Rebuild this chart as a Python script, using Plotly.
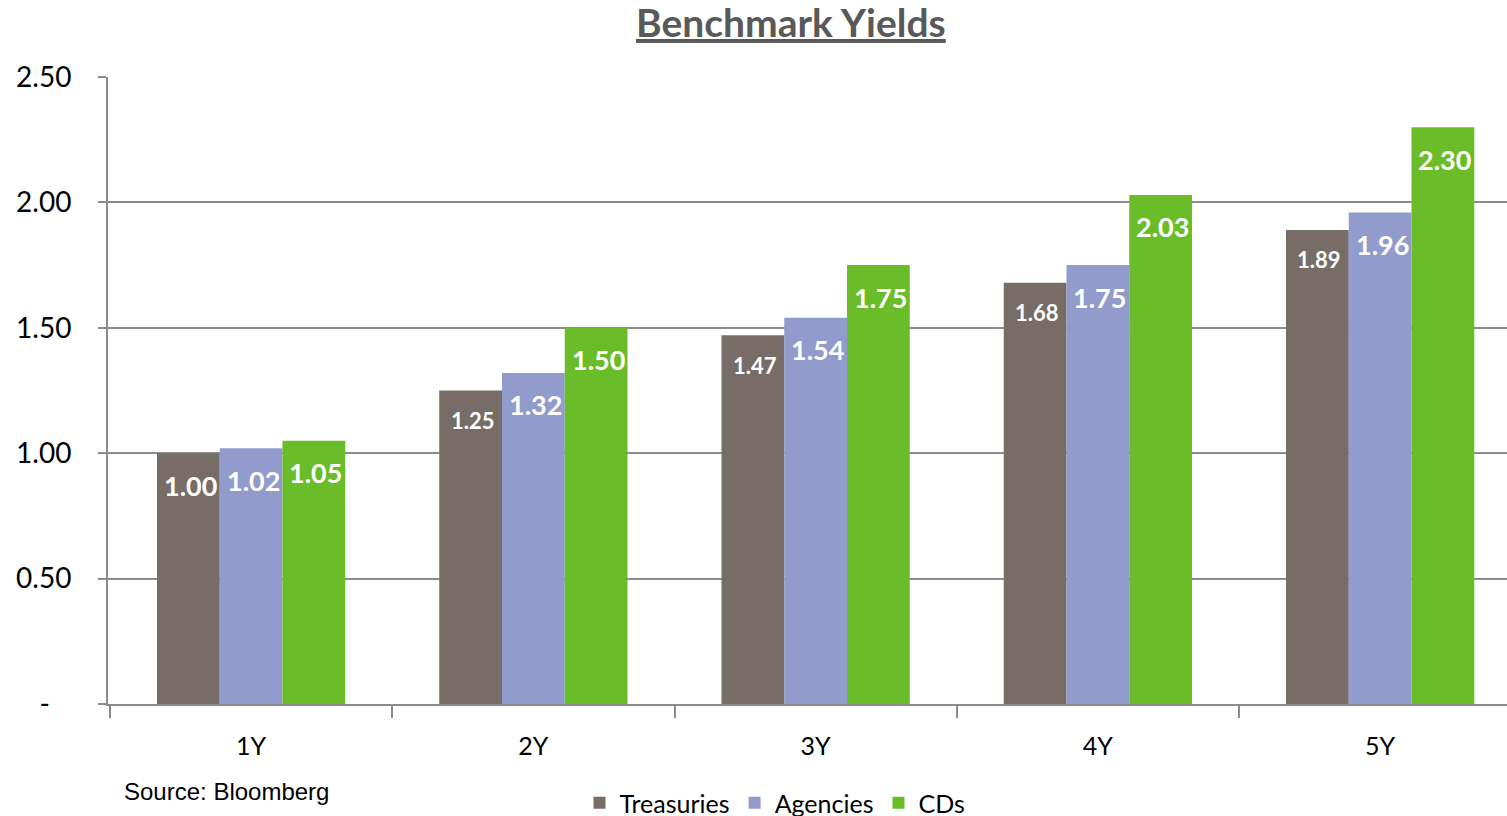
import plotly.graph_objects as go

categories = ["1Y", "2Y", "3Y", "4Y", "5Y"]
treasuries = [1.00, 1.25, 1.47, 1.68, 1.89]
agencies = [1.02, 1.32, 1.54, 1.75, 1.96]
cds = [1.05, 1.50, 1.75, 2.03, 2.30]
series_names = ["Treasuries", "Agencies", "CDs"]
series_values = [treasuries, agencies, cds]
colors = ["#776D66", "#919BCC", "#6ABD28"]
label_sizes = [[27, 22, 22, 22, 22], [27] * 5, [27] * 5]
y_tickvals = [0, 0.5, 1.0, 1.5, 2.0, 2.5]
y_ticktext = ["-\u00a0\u00a0\u00a0", "0.50", "1.00", "1.50", "2.00", "2.50"]

FONT = "Lato, Open Sans, sans-serif"
GRID = "#8C8C8C"
BARGAP = 0.333

fig = go.Figure()
for name, vals, col in zip(series_names, series_values, colors):
    fig.add_trace(go.Bar(x=categories, y=vals, name=name, marker=dict(color=col, line=dict(width=0))))

annotations = []
nser = len(series_names)
bw = (1 - BARGAP) / nser
for s, vals in enumerate(series_values):
    off = (s - (nser - 1) / 2) * bw
    for i, v in enumerate(vals):
        size = label_sizes[s][i]
        annotations.append(dict(
            x=i + off, y=v, xref="x", yref="y", text="<b>%.2f</b>" % v,
            showarrow=False, yanchor="middle", xanchor="center",
            xshift=2, yshift=-32 if size > 24 else -30,
            font=dict(family=FONT, size=size, color="white")))

annotations.append(dict(
    x=(791 - 108) / 1399, y=1 + (77 - 22) / 627, xref="paper", yref="paper",
    text="<b><u>Benchmark Yields</u></b>", showarrow=False,
    xanchor="center", yanchor="middle",
    font=dict(family=FONT, size=39, color="#595959")))
annotations.append(dict(
    x=(122 - 108) / 1399, y=(704 - 791) / 627, xref="paper", yref="paper",
    text="Source: Bloomberg", showarrow=False, xanchor="left", yanchor="middle",
    font=dict(family="Liberation Sans, Arial, sans-serif", size=24, color="black")))

fig.update_layout(
    width=1507, height=816,
    barmode="group", bargap=BARGAP, bargroupgap=0,
    paper_bgcolor="white", plot_bgcolor="white",
    margin=dict(l=108, r=0, t=77, b=112, autoexpand=False),
    font=dict(family=FONT, color="black"),
    annotations=annotations,
    legend=dict(orientation="h", x=(775 - 108) / 1399, xanchor="center",
                y=(704 - 803) / 627, yanchor="middle",
                font=dict(family=FONT, size=25, color="black"),
                itemwidth=30, bgcolor="rgba(0,0,0,0)"),
    xaxis=dict(range=[-0.5 - 2 / 282.25, -0.5 + 1397 / 282.25], showline=True, linecolor=GRID, linewidth=2,
               ticks="outside", tickson="boundaries", ticklen=12, tickwidth=2, tickcolor=GRID,
               showgrid=False, zeroline=False,
               tickfont=dict(family=FONT, size=25, color="black"), ticklabelstandoff=19),
    yaxis=dict(range=[0, 2.5], tickvals=y_tickvals, ticktext=y_ticktext,
               showline=True, linecolor=GRID, linewidth=2,
               ticks="outside", ticklen=8, tickwidth=2, tickcolor=GRID,
               showgrid=True, gridcolor=GRID, gridwidth=2, zeroline=False,
               tickfont=dict(family=FONT, size=28, color="black"), ticklabelstandoff=21),
)

fig.write_html("out.html", config={"displayModeBar": False},
               post_script="document.body.style.margin='0';document.body.style.overflow='hidden';")
